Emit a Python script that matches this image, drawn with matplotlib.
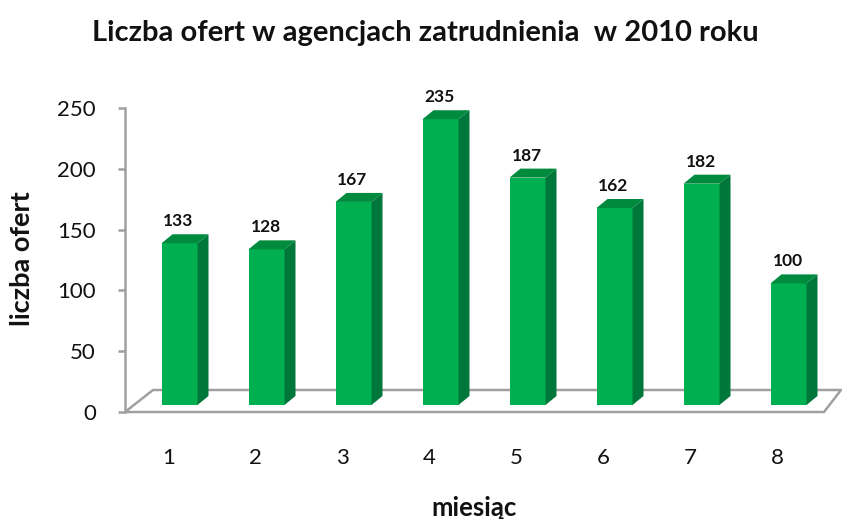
import matplotlib
matplotlib.use("Agg")
import matplotlib.pyplot as plt
from matplotlib.patches import Polygon

# data
months = [1, 2, 3, 4, 5, 6, 7, 8]
offers = [133, 128, 167, 235, 187, 162, 182, 100]
yticks = [0, 50, 100, 150, 200, 250]

plt.rcParams['font.family'] = ['Lato', 'DejaVu Sans']

W, H = 842, 519
fig = plt.figure(figsize=(W / 100, H / 100), dpi=100)
# axes box: x 0.5..8.5 -> px 125..821, y 0..250 -> px 412..108
ax = fig.add_axes([125 / W, 1 - 412 / H, 696 / W, 304 / H])
ax.set_xlim(0.5, 8.5)
ax.set_ylim(0, 250)

px_x = 8.0 / 696      # data units per pixel, horizontal
px_y = 250.0 / 304    # data units per pixel, vertical

front = '#00B050'
side = '#00773A'
top = '#008A3E'
grey = '#A0A0A0'

# floor of the 3d plot
fl = [(0.5, 0), (0.5 + 28 * px_x, 22 * px_y), (8.5 + 20 * px_x, 22 * px_y), (8.5 + 3 * px_x, 0)]
ax.add_patch(Polygon(fl, closed=True, fill=False, edgecolor=grey, lw=1.8,
                     clip_on=False, zorder=1))

# bars drawn as front / side / top faces
off = 11 * px_x
bw = 36 * px_x
base = 7 * px_y
dx = 11 * px_x
dy = 9 * px_y
for m, v in zip(months, offers):
    x0 = m + off - bw / 2
    x1 = x0 + bw
    y0 = base
    y1 = base + v
    ax.add_patch(Polygon([(x0, y0), (x1, y0), (x1, y1), (x0, y1)],
                         facecolor=front, edgecolor='none', zorder=3))
    ax.add_patch(Polygon([(x1, y0), (x1 + dx, y0 + dy), (x1 + dx, y1 + dy), (x1, y1)],
                         facecolor=side, edgecolor='none', zorder=3))
    ax.add_patch(Polygon([(x0, y1), (x0 + dx, y1 + dy), (x1 + dx, y1 + dy), (x1, y1)],
                         facecolor=top, edgecolor='none', zorder=3))
    ax.text(m + off - 1 * px_x, y1 + dy + 13 * px_y, str(v), ha='center', va='center',
            fontsize=12.5, fontweight='bold', color='#111111')

for s in ['top', 'right', 'bottom']:
    ax.spines[s].set_visible(False)
ax.spines['left'].set_color(grey)
ax.spines['left'].set_linewidth(1.8)
ax.set_yticks(yticks)
ax.tick_params(axis='y', direction='out', length=5, width=1.8, color=grey,
               labelsize=16, pad=16, labelcolor='#111111')
ax.set_xticks(months)
ax.set_xticklabels([str(m) for m in months])
ax.tick_params(axis='x', length=0, labelsize=16, pad=26, labelcolor='#111111')
ax.patch.set_visible(False)

fig.text(425 / W, 1 - 33 / H, 'Liczba ofert w agencjach zatrudnienia  w 2010 roku',
         ha='center', va='center', fontsize=21, fontweight='bold', color='#111111')
fig.text(22 / W, 1 - 259 / H, 'liczba ofert', rotation=90, ha='center', va='center',
         fontsize=19.5, fontweight='bold', color='#111111')
fig.text(474 / W, 1 - 508 / H, 'miesiąc', ha='center', va='center',
         fontsize=18.5, fontweight='bold', color='#111111')

fig.savefig('out.png', dpi=100)
